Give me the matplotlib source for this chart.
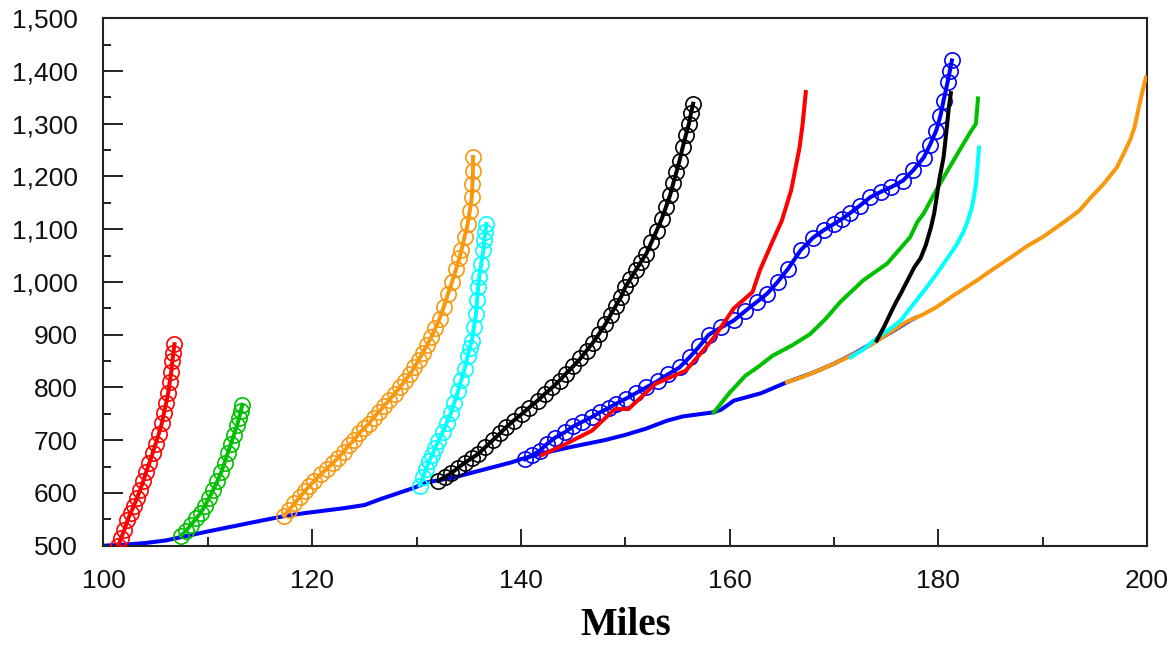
import matplotlib
matplotlib.use("Agg")
import matplotlib.pyplot as plt
from matplotlib.ticker import MultipleLocator, FuncFormatter

# ---------------- data (miles, value) ----------------
# baseline (solid blue, no markers)
base_x = [100, 102, 104, 106, 107.4, 110, 113, 115, 117.3, 119, 121, 123, 125, 126.5, 128, 129.8,
          131, 133.7, 136, 139.1, 140, 142, 145, 148, 150, 152, 154, 155.5, 157, 158.5, 159.2,
          160.4, 163, 165.5, 168, 170, 172, 174.1, 175.5, 177.3, 177.8]
base_y = [500, 502, 505, 510, 516, 527, 539, 547, 556, 561, 566, 571, 577, 588, 598, 610,
          620, 630, 642, 658, 664, 675, 688, 700, 710, 722, 737, 745, 749, 753, 758,
          775, 789, 810, 828, 845, 865, 889, 905, 927, 932]

# marker series
red_m_x = [101.4, 101.7, 102.0, 102.3, 102.6, 102.9, 103.2, 103.5, 103.8, 104.1, 104.4, 104.7,
           105.0, 105.3, 105.6, 105.8, 106.0, 106.2, 106.35, 106.5, 106.6, 106.7, 106.8]
red_m_y = [500, 515, 530, 548, 562, 575, 590, 605, 622, 640, 657, 675,
           693, 712, 733, 752, 770, 790, 810, 830, 850, 866, 882]

green_m_x = [107.4, 107.9, 108.4, 108.9, 109.3, 109.7, 110.1, 110.5, 110.9, 111.3, 111.6, 111.9,
             112.2, 112.5, 112.8, 113.0, 113.15, 113.3]
green_m_y = [519, 528, 540, 552, 562, 575, 590, 605, 622, 640, 657, 675,
             693, 710, 728, 743, 755, 767]

orange_m_x = [117.3, 117.8, 118.3, 118.8, 119.3, 119.7, 120.2, 120.8, 121.4, 122.0, 122.5, 123.0,
              123.5, 124.0, 124.5, 125.0, 125.4, 125.9, 126.4, 126.9, 127.4, 127.9, 128.4, 128.9,
              129.4, 129.8, 130.2, 130.6, 131.0, 131.4, 131.8, 132.2, 132.6, 133.0, 133.4, 133.8,
              134.1, 134.3, 134.6, 134.9, 135.1, 135.3, 135.35, 135.4, 135.4]
orange_m_y = [557, 568, 580, 592, 603, 613, 623, 635, 646, 657, 667, 678,
              690, 700, 713, 723, 731, 743, 754, 765, 777, 788, 800, 813,
              826, 838, 852, 866, 880, 895, 912, 930, 952, 977, 1000, 1025,
              1045, 1060, 1085, 1110, 1135, 1161, 1185, 1210, 1237]

cyan_m_x = [130.3, 130.6, 130.9, 131.2, 131.5, 131.8, 132.1, 132.5, 132.9, 133.3, 133.6, 134.0,
            134.3, 134.6, 134.9, 135.1, 135.3, 135.5, 135.7, 135.8, 135.9, 136.0, 136.2, 136.4,
            136.5, 136.6, 136.7]
cyan_m_y = [614, 630, 645, 660, 672, 686, 699, 715, 733, 752, 770, 794,
            815, 835, 860, 875, 889, 915, 940, 965, 990, 1010, 1035, 1060,
            1080, 1095, 1110]

black_m_x = [132.1, 132.7, 133.3, 134.0, 134.6, 135.3, 135.9, 136.6, 137.3, 138.0, 138.6, 139.3,
             140.1, 140.8, 141.6, 142.3, 143.0, 143.7, 144.3, 145.0, 145.7, 146.3, 146.9, 147.5,
             148.1, 148.6, 149.1, 149.6, 150.0, 150.5, 151.0, 151.5, 152.0, 152.5, 153.0, 153.5,
             153.9, 154.3, 154.6, 154.9, 155.2, 155.5, 155.8, 156.1, 156.3, 156.5]
black_m_y = [623, 630, 637, 648, 657, 666, 674, 687, 700, 713, 725, 737,
             750, 762, 775, 788, 800, 813, 826, 840, 855, 870, 885, 902,
             920, 938, 955, 972, 990, 1006, 1022, 1038, 1053, 1075, 1097, 1120,
             1142, 1165, 1187, 1208, 1230, 1255, 1278, 1300, 1320, 1338]

blue_m_x = [140.4, 141.1, 141.8, 142.5, 143.3, 144.2, 145.0, 145.9, 146.8, 147.6, 148.4, 149.1,
            150.1, 151.0, 152.0, 153.1, 154.1, 155.2, 156.2, 157.1, 158.0, 159.2, 160.4, 161.5,
            162.6, 163.6, 164.6, 165.6, 166.8, 168.0, 169.0, 170.0, 170.8, 171.5, 172.5, 173.5,
            174.5, 175.5, 176.6, 177.6, 178.6, 179.2, 179.8, 180.2, 180.5, 180.9, 181.1, 181.3]
blue_m_y = [664, 672, 680, 693, 705, 715, 726, 735, 744, 753, 761, 769,
            779, 789, 800, 812, 825, 838, 858, 878, 900, 914, 927, 945,
            962, 978, 1000, 1025, 1060, 1084, 1098, 1110, 1120, 1130, 1145, 1161,
            1171, 1180, 1192, 1212, 1236, 1260, 1287, 1315, 1344, 1380, 1400, 1420]

# plain line series
red_x = [142.0, 144.0, 146.8, 149.0, 150.3, 152.9, 155.8, 157.2, 158.5, 160.4, 162.2, 162.9,
         164.0, 165.0, 165.9, 166.7, 167.0, 167.3]
red_y = [672, 690, 718, 759, 759, 807, 832, 864, 895, 950, 981, 1022,
         1072, 1116, 1174, 1255, 1300, 1360]

green_x = [158.5, 160.0, 161.5, 162.8, 164.1, 166.0, 167.7, 169.2, 170.6, 172.8, 175.1, 177.3,
           178.0, 178.6, 179.8, 181.0, 182.4, 183.1, 183.6, 183.8]
green_y = [753, 790, 822, 840, 860, 880, 901, 930, 962, 1003, 1035, 1085,
           1114, 1130, 1174, 1215, 1262, 1285, 1300, 1348]

orange_x = [165.5, 167.0, 168.5, 170.0, 171.8, 173.5, 175.4, 177.0, 178.5, 179.8, 181.5, 183.7,
            185.3, 186.9, 188.5, 190.0, 192.0, 193.5, 194.6, 195.8, 197.1, 197.8, 198.4, 198.8,
            199.2, 199.6, 199.9]
orange_y = [810, 820, 832, 845, 862, 880, 905, 925, 938, 952, 975, 1003,
            1025, 1046, 1068, 1085, 1113, 1135, 1160, 1185, 1217, 1245, 1270, 1293,
            1330, 1365, 1388]

cyan_x = [171.6, 172.8, 174.2, 175.3, 176.4, 177.3, 178.5, 179.6, 180.7, 181.8, 182.4, 182.8,
          183.2, 183.4, 183.6, 183.7, 183.8, 183.9]
cyan_y = [857, 872, 895, 910, 927, 950, 980, 1009, 1040, 1072, 1095, 1115,
          1140, 1160, 1185, 1206, 1230, 1255]

black_x = [174.1, 174.8, 175.4, 175.9, 176.4, 177.1, 177.7, 178.3, 178.8, 179.3, 179.6, 179.8,
           180.1, 180.5, 180.8, 181.0, 181.2]
black_y = [889, 915, 940, 960, 978, 1005, 1028, 1045, 1070, 1104, 1130, 1155,
           1195, 1236, 1290, 1330, 1358]

x_label = "Miles"

# ---------------- colours ----------------
C_BLUE = "#0000FF"
C_RED = "#FF0000"
C_GREEN = "#00C000"
C_ORANGE = "#F8980F"
C_CYAN = "#00FFFF"
C_BLACK = "#000000"

# ---------------- figure ----------------
fig = plt.figure(figsize=(11.72, 6.48), dpi=100)
ax = fig.add_axes([0.0883, 0.1579, 0.8904, 0.8139])

LW = 2.9
MS = 11
MEW = 1.2

ax.plot(base_x, base_y, color=C_BLUE, lw=LW, zorder=2)
ax.plot(blue_m_x, blue_m_y, color=C_BLUE, lw=LW, marker="o", ms=MS, mfc="none",
        mec=C_BLUE, mew=MEW, zorder=3)
ax.plot(orange_x, orange_y, color=C_ORANGE, lw=LW, zorder=3)
ax.plot(cyan_x, cyan_y, color=C_CYAN, lw=LW, zorder=3)
ax.plot(green_x, green_y, color=C_GREEN, lw=LW, zorder=3)
ax.plot(black_x, black_y, color=C_BLACK, lw=LW, zorder=4)
ax.plot(red_x, red_y, color=C_RED, lw=LW, zorder=4)

for xs, ys, c in [(red_m_x, red_m_y, C_RED), (green_m_x, green_m_y, C_GREEN),
                  (orange_m_x, orange_m_y, C_ORANGE), (cyan_m_x, cyan_m_y, C_CYAN),
                  (black_m_x, black_m_y, C_BLACK)]:
    ax.plot(xs, ys, color=c, lw=LW, marker="o", ms=MS, mfc="none", mec=c, mew=MEW, zorder=3)

ax.set_xlim(100, 200)
ax.set_ylim(500, 1500)

ax.xaxis.set_major_locator(MultipleLocator(20))
ax.xaxis.set_minor_locator(MultipleLocator(10))
ax.yaxis.set_major_locator(MultipleLocator(100))
ax.yaxis.set_minor_locator(MultipleLocator(50))
ax.yaxis.set_major_formatter(FuncFormatter(lambda v, p: f"{int(v):,}"))

for s in ax.spines.values():
    s.set_linewidth(1.5)
    s.set_color("#222222")

ax.tick_params(axis="both", which="both", direction="in", top=False, right=False,
               width=1.4, color="#222222")
ax.tick_params(axis="y", which="major", length=14.4, pad=18.5)
ax.tick_params(axis="y", which="minor", length=5.8)
ax.tick_params(axis="x", which="major", length=12.2, pad=17)
ax.tick_params(axis="x", which="minor", length=6.5)

for lab in ax.get_xticklabels() + ax.get_yticklabels():
    lab.set_fontfamily("Liberation Sans")
    lab.set_fontsize(19)
    lab.set_color("#111111")

fig.text(0.534, 0.006, x_label, ha="center", va="bottom",
         fontfamily="Liberation Serif", fontweight="bold", fontsize=28)

fig.savefig("out.png", dpi=100)
